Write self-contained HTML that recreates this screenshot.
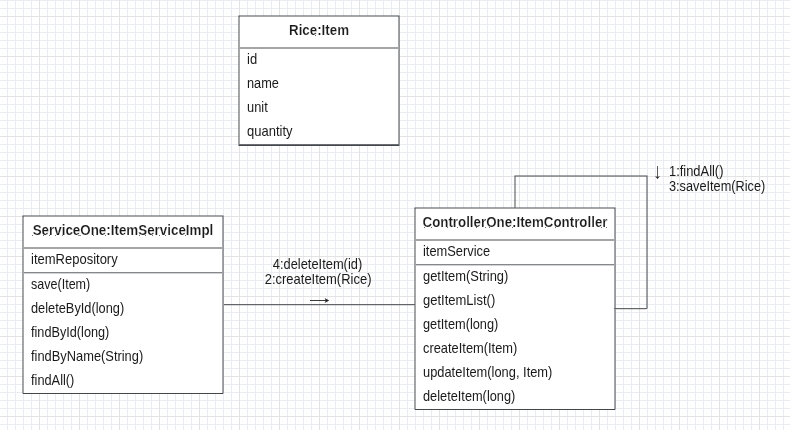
<!DOCTYPE html>
<html lang="en">
<head>
<meta charset="utf-8">
<title>UML object diagram</title>
<style>
html,body{margin:0;padding:0;background:#fff;}
body{width:790px;height:430px;overflow:hidden;position:relative;font-family:"Liberation Sans",Arial,Helvetica,sans-serif;}
svg{position:absolute;left:0;top:0;display:block;will-change:transform;}
text{font-family:"Liberation Sans",Arial,Helvetica,sans-serif;fill:#1a1a1a;}
rect{shape-rendering:crispEdges;}
text.b{stroke:#fff;stroke-width:0.17px;}
</style>
</head>
<body>
<svg width="790" height="430" viewBox="0 0 790 430">
<defs>
<pattern id="grid" x="-1" y="16" width="40" height="40" patternUnits="userSpaceOnUse">
<rect width="40" height="40" fill="#fff"/>
<path d="M8.5 0V40M16.5 0V40M24.5 0V40M32.5 0V40M0 8.5H40M0 16.5H40M0 24.5H40M0 32.5H40" stroke="#e9ecf0" stroke-width="1" fill="none" shape-rendering="crispEdges"/>
<path d="M0.5 0V40M0 0.5H40" stroke="#e3e3e3" stroke-width="1" fill="none" shape-rendering="crispEdges"/>
</pattern>
</defs>
<rect width="790" height="430" fill="url(#grid)"/>
<rect x="239" y="16" width="160" height="129" fill="#fff"/>
<rect x="239" y="15" width="160" height="1" fill="#3c3f43" fill-opacity="0.472"/>
<rect x="238" y="16" width="162" height="1" fill="#3c3f43" fill-opacity="0.472"/>
<rect x="238" y="15" width="1" height="1" fill="#3c3f43" fill-opacity="0.28"/>
<rect x="399" y="15" width="1" height="1" fill="#3c3f43" fill-opacity="0.28"/>
<rect x="238" y="17" width="2" height="128" fill="#3c3f43" fill-opacity="0.472"/>
<rect x="398" y="17" width="2" height="128" fill="#3c3f43" fill-opacity="0.472"/>
<rect x="240" y="47" width="158" height="2" fill="#3c3f43" fill-opacity="0.472"/>
<rect x="239" y="16" width="1" height="1" fill="#6d6f72"/>
<rect x="398" y="16" width="1" height="1" fill="#6d6f72"/>
<rect x="239" y="144" width="160" height="1" fill="#6a6d71"/>
<rect x="239" y="145" width="160" height="1" fill="#45484c"/>
<rect x="238" y="145" width="1" height="1" fill="#3c3f43" fill-opacity="0.45"/>
<rect x="399" y="145" width="1" height="1" fill="#3c3f43" fill-opacity="0.45"/>
<rect x="23" y="216" width="200" height="177" fill="#fff"/>
<rect x="23" y="215" width="200" height="1" fill="#3c3f43" fill-opacity="0.472"/>
<rect x="22" y="216" width="202" height="1" fill="#3c3f43" fill-opacity="0.472"/>
<rect x="22" y="215" width="1" height="1" fill="#3c3f43" fill-opacity="0.28"/>
<rect x="223" y="215" width="1" height="1" fill="#3c3f43" fill-opacity="0.28"/>
<rect x="22" y="217" width="2" height="176" fill="#3c3f43" fill-opacity="0.472"/>
<rect x="222" y="217" width="2" height="176" fill="#3c3f43" fill-opacity="0.472"/>
<rect x="24" y="247" width="198" height="2" fill="#3c3f43" fill-opacity="0.472"/>
<rect x="23" y="216" width="1" height="1" fill="#6d6f72"/>
<rect x="222" y="216" width="1" height="1" fill="#6d6f72"/>
<rect x="23" y="393" width="200" height="1" fill="#44474a"/>
<rect x="22" y="393" width="1" height="1" fill="#3c3f43" fill-opacity="0.28"/>
<rect x="223" y="393" width="1" height="1" fill="#3c3f43" fill-opacity="0.28"/>
<rect x="24" y="272" width="198" height="1" fill="#85878a"/>
<rect x="24" y="273" width="198" height="1" fill="#d2d3d5"/>
<rect x="415" y="208" width="200" height="201" fill="#fff"/>
<rect x="415" y="207" width="200" height="1" fill="#3c3f43" fill-opacity="0.472"/>
<rect x="414" y="208" width="202" height="1" fill="#3c3f43" fill-opacity="0.472"/>
<rect x="414" y="207" width="1" height="1" fill="#3c3f43" fill-opacity="0.28"/>
<rect x="615" y="207" width="1" height="1" fill="#3c3f43" fill-opacity="0.28"/>
<rect x="414" y="209" width="2" height="200" fill="#3c3f43" fill-opacity="0.472"/>
<rect x="614" y="209" width="2" height="200" fill="#3c3f43" fill-opacity="0.472"/>
<rect x="416" y="239" width="198" height="2" fill="#3c3f43" fill-opacity="0.472"/>
<rect x="415" y="208" width="1" height="1" fill="#6d6f72"/>
<rect x="614" y="208" width="1" height="1" fill="#6d6f72"/>
<rect x="415" y="409" width="200" height="1" fill="#44474a"/>
<rect x="414" y="409" width="1" height="1" fill="#3c3f43" fill-opacity="0.28"/>
<rect x="615" y="409" width="1" height="1" fill="#3c3f43" fill-opacity="0.28"/>
<rect x="416" y="264" width="198" height="1" fill="#85878a"/>
<rect x="416" y="265" width="198" height="1" fill="#d2d3d5"/>
<rect x="224" y="304" width="190" height="1" fill="#3c3f43" fill-opacity="0.785"/>
<rect x="224" y="305" width="190" height="1" fill="#3c3f43" fill-opacity="0.18"/>
<rect x="414" y="304" width="1" height="1" fill="#5a5c5f"/>
<rect x="514" y="177" width="2" height="30" fill="#3c3f43" fill-opacity="0.472"/>
<rect x="515" y="175" width="132" height="1" fill="#3c3f43" fill-opacity="0.472"/>
<rect x="514" y="176" width="134" height="1" fill="#3c3f43" fill-opacity="0.472"/>
<rect x="514" y="175" width="1" height="1" fill="#3c3f43" fill-opacity="0.28"/>
<rect x="647" y="175" width="1" height="1" fill="#3c3f43" fill-opacity="0.28"/>
<rect x="646" y="177" width="2" height="131" fill="#3c3f43" fill-opacity="0.472"/>
<rect x="647" y="308" width="1" height="1" fill="#3c3f43" fill-opacity="0.28"/>
<rect x="616" y="308" width="31" height="1" fill="#3c3f43" fill-opacity="0.785"/>
<rect x="616" y="309" width="30" height="1" fill="#3c3f43" fill-opacity="0.18"/>
<text transform="translate(319 34.7) scale(1 1.03)" text-anchor="middle" font-weight="bold" class="b" font-size="13.33">Rice:Item</text>
<text transform="translate(123 234.8) scale(1.004 1.03)" text-anchor="middle" font-weight="bold" class="b" font-size="13.33">ServiceOne:ItemServiceImpl</text>
<text transform="translate(515 226.8) scale(1 1.03)" text-anchor="middle" font-weight="bold" class="b" font-size="13.33">ControllerOne:ItemController</text>
<text transform="translate(247 64.0) scale(0.975 1.03)" text-anchor="start" font-size="13.33">id</text>
<text transform="translate(247 88.0) scale(0.958 1.03)" text-anchor="start" font-size="13.33">name</text>
<text transform="translate(247 112.0) scale(0.965 1.03)" text-anchor="start" font-size="13.33">unit</text>
<text transform="translate(247 136.0) scale(0.975 1.03)" text-anchor="start" font-size="13.33">quantity</text>
<text transform="translate(31 264.0) scale(0.9765 1.03)" text-anchor="start" font-size="13.33">itemRepository</text>
<text transform="translate(31 289.0) scale(0.942 1.03)" text-anchor="start" font-size="13.33">save(Item)</text>
<text transform="translate(31 313.0) scale(0.961 1.03)" text-anchor="start" font-size="13.33">deleteById(long)</text>
<text transform="translate(31 337.0) scale(0.9527 1.03)" text-anchor="start" font-size="13.33">findById(long)</text>
<text transform="translate(31 361.0) scale(0.965 1.03)" text-anchor="start" font-size="13.33">findByName(String)</text>
<text transform="translate(31 385.0) scale(0.96 1.03)" text-anchor="start" font-size="13.33">findAll()</text>
<text transform="translate(423 256.0) scale(0.965 1.03)" text-anchor="start" font-size="13.33">itemService</text>
<text transform="translate(423 281.0) scale(0.969 1.03)" text-anchor="start" font-size="13.33">getItem(String)</text>
<text transform="translate(423 305.0) scale(0.976 1.03)" text-anchor="start" font-size="13.33">getItemList()</text>
<text transform="translate(423 329.0) scale(0.96 1.03)" text-anchor="start" font-size="13.33">getItem(long)</text>
<text transform="translate(423 353.0) scale(0.965 1.03)" text-anchor="start" font-size="13.33">createItem(Item)</text>
<text transform="translate(423 377.0) scale(0.965 1.03)" text-anchor="start" font-size="13.33">updateItem(long, Item)</text>
<text transform="translate(423 401.0) scale(0.959 1.03)" text-anchor="start" font-size="13.33">deleteItem(long)</text>
<text transform="translate(317.5 269.0) scale(0.965 1.03)" text-anchor="middle" font-size="13.33">4:deleteItem(id)</text>
<text transform="translate(318.1 284.0) scale(0.974 1.03)" text-anchor="middle" font-size="13.33">2:createItem(Rice)</text>
<text transform="translate(669 175.75) scale(0.968 1.03)" text-anchor="start" font-size="13.33">1:findAll()</text>
<text transform="translate(669 190.75) scale(0.956 1.03)" text-anchor="start" font-size="13.33">3:saveItem(Rice)</text>
<rect x="310" y="300" width="17" height="1" fill="#3a3a3a"/>
<path d="M324.6 297.9L329.2 300.5L324.6 303.1L325.8 300.5Z" fill="#222"/>
<rect x="657" y="166" width="1" height="12" fill="#5c5c5c"/>
<path d="M655 176L657.5 179.1L660 176L657.5 177.1Z" fill="#222"/>
<rect x="515" y="176" width="1" height="1" fill="#6d6f72"/>
<rect x="646" y="176" width="1" height="1" fill="#6d6f72"/>
<rect x="646" y="308" width="1" height="1" fill="#5a5c5f"/>
<rect x="614" y="308" width="2" height="1" fill="#66686b"/>
<rect x="514" y="207" width="2" height="1" fill="#7c7e81"/>
<rect x="32" y="235" width="1" height="1" fill="#6e6e6e"/>
<rect x="43" y="235" width="1" height="1" fill="#6e6e6e"/>
<rect x="49" y="235" width="1" height="1" fill="#6e6e6e"/>
<rect x="55" y="235" width="1" height="1" fill="#6e6e6e"/>
<rect x="62" y="235" width="1" height="1" fill="#6e6e6e"/>
<rect x="93" y="235" width="1" height="1" fill="#6e6e6e"/>
<rect x="105" y="235" width="1" height="1" fill="#6e6e6e"/>
<rect x="139" y="235" width="1" height="1" fill="#6e6e6e"/>
<rect x="145" y="235" width="1" height="1" fill="#6e6e6e"/>
<rect x="152" y="235" width="1" height="1" fill="#6e6e6e"/>
<rect x="159" y="235" width="1" height="1" fill="#6e6e6e"/>
<rect x="165" y="235" width="1" height="1" fill="#6e6e6e"/>
<rect x="185" y="235" width="1" height="1" fill="#6e6e6e"/>
<rect x="78" y="235" width="3" height="1" fill="#8a8a8a"/>
<rect x="424" y="227" width="1" height="1" fill="#6e6e6e"/>
<rect x="431" y="227" width="1" height="1" fill="#6e6e6e"/>
<rect x="447" y="227" width="1" height="1" fill="#6e6e6e"/>
<rect x="457" y="227" width="1" height="1" fill="#6e6e6e"/>
<rect x="476" y="227" width="1" height="1" fill="#6e6e6e"/>
<rect x="485" y="227" width="1" height="1" fill="#6e6e6e"/>
<rect x="489" y="227" width="1" height="1" fill="#6e6e6e"/>
<rect x="512" y="227" width="1" height="1" fill="#6e6e6e"/>
<rect x="545" y="227" width="1" height="1" fill="#6e6e6e"/>
<rect x="555" y="227" width="1" height="1" fill="#6e6e6e"/>
<rect x="576" y="227" width="1" height="1" fill="#6e6e6e"/>
<rect x="601" y="227" width="1" height="1" fill="#6e6e6e"/>
<rect x="606" y="227" width="1" height="1" fill="#6e6e6e"/>
<rect x="315" y="35" width="1" height="1" fill="#6e6e6e"/>
</svg>
</body>
</html>
